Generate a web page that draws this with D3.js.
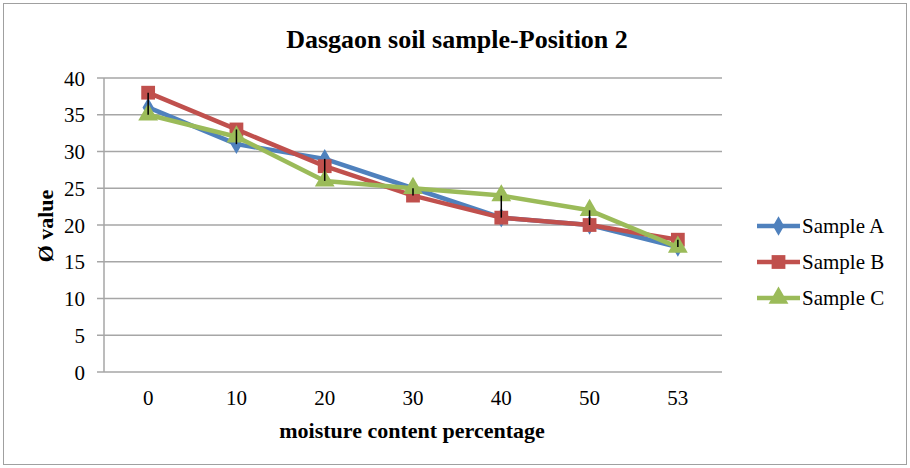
<!DOCTYPE html>
<html><head><meta charset="utf-8">
<script src="https://cdn.jsdelivr.net/npm/d3@7/dist/d3.min.js"></script>
<style>body{margin:0;background:#fff}svg{display:block}</style>
</head><body><svg id="c" width="910" height="468"></svg>
<script>
const categories = ["0","10","20","30","40","50","53"];
const sampleA = [36,31,29,25,21,20,17];
const sampleB = [38,33,28,24,21,20,18];
const sampleC = [35,32,26,25,24,22,17];
const seriesNames = ["Sample A","Sample B","Sample C"];
const yTicks = [0,5,10,15,20,25,30,35,40];
const colors = ["#4F81BD","#C0504D","#9BBB59"];
const symbols = [d3.symbolDiamond, d3.symbolSquare, d3.symbolTriangle];
const symSizes = [110, 190, 170];

const svg = d3.select("#c");
const font = "'Liberation Serif','Times New Roman',serif";
svg.append("rect").attr("x",3.5).attr("y",3.5).attr("width",903).attr("height",461)
  .attr("fill","#fff").attr("stroke","#a0a0a0").attr("stroke-width",1);

const m = {l:104, r:722, t:78, b:372};
const x = d3.scaleBand().domain(categories).range([m.l,m.r]);
const y = d3.scaleLinear().domain([0,40]).range([m.b,m.t]);

// gridlines
svg.append("g").selectAll("line").data(yTicks).join("line")
  .attr("x1",97).attr("x2",m.r).attr("y1",d=>y(d)).attr("y2",d=>y(d))
  .attr("stroke","#a6a6a6").attr("stroke-width",1.5);
svg.append("line").attr("x1",m.l).attr("x2",m.l).attr("y1",m.t).attr("y2",m.b)
  .attr("stroke","#a6a6a6").attr("stroke-width",1.5);

// y axis labels
const yAxis = d3.axisLeft(y).tickValues(yTicks).tickSize(0).tickPadding(0);
const ya = svg.append("g").attr("transform",`translate(85,0)`).call(yAxis);
ya.select(".domain").remove();
ya.selectAll("text").attr("font-family",font).attr("font-size",21).attr("fill","#000").attr("dy","0.34em");

const xAxis = d3.axisBottom(x).tickSize(0).tickPadding(0);
const xa = svg.append("g").attr("transform",`translate(0,${m.b+18})`).call(xAxis);
xa.select(".domain").remove();
xa.selectAll("text").attr("font-family",font).attr("font-size",21).attr("fill","#000");

const cx = c => x(c) + x.bandwidth()/2;
const allSeries = [sampleA, sampleB, sampleC];
const line = d3.line().x((d,i)=>cx(categories[i])).y(d=>y(d));

allSeries.forEach((s,k)=>{
  svg.append("path").datum(s).attr("d",line).attr("fill","none")
    .attr("stroke",colors[k]).attr("stroke-width",4.5).attr("stroke-linejoin","round");
  svg.append("g").selectAll("path").data(s).join("path")
    .attr("transform",(d,i)=>`translate(${cx(categories[i])},${y(d)})`)
    .attr("d",d3.symbol().type(symbols[k]).size(symSizes[k])).attr("fill",colors[k]);
});

// high-low lines
svg.append("g").selectAll("line").data(categories).join("line")
  .attr("x1",c=>cx(c)).attr("x2",c=>cx(c))
  .attr("y1",(c,i)=>y(d3.max(allSeries,s=>s[i])))
  .attr("y2",(c,i)=>y(d3.min(allSeries,s=>s[i])))
  .attr("stroke","#000").attr("stroke-width",1.5);

// titles
svg.append("text").attr("x",457).attr("y",48).attr("text-anchor","middle")
  .attr("font-family",font).attr("font-weight","bold").attr("font-size",26)
  .text("Dasgaon soil sample-Position 2");
svg.append("text").attr("x",412).attr("y",438).attr("text-anchor","middle")
  .attr("font-family",font).attr("font-weight","bold").attr("font-size",22)
  .text("moisture content percentage");
svg.append("text").attr("transform","translate(53,226) rotate(-90)").attr("text-anchor","middle")
  .attr("font-family",font).attr("font-weight","bold").attr("font-size",22)
  .text("Ø value");

// legend
const lg = svg.append("g");
seriesNames.forEach((n,k)=>{
  const ly = 226 + k*36;
  lg.append("line").attr("x1",757).attr("x2",800).attr("y1",ly).attr("y2",ly)
    .attr("stroke",colors[k]).attr("stroke-width",4.5);
  lg.append("path").attr("transform",`translate(778.5,${ly})`)
    .attr("d",d3.symbol().type(symbols[k]).size(symSizes[k])).attr("fill",colors[k]);
  lg.append("text").attr("x",802).attr("y",ly+7).attr("font-family",font)
    .attr("font-size",21).text(n);
});
</script></body></html>
